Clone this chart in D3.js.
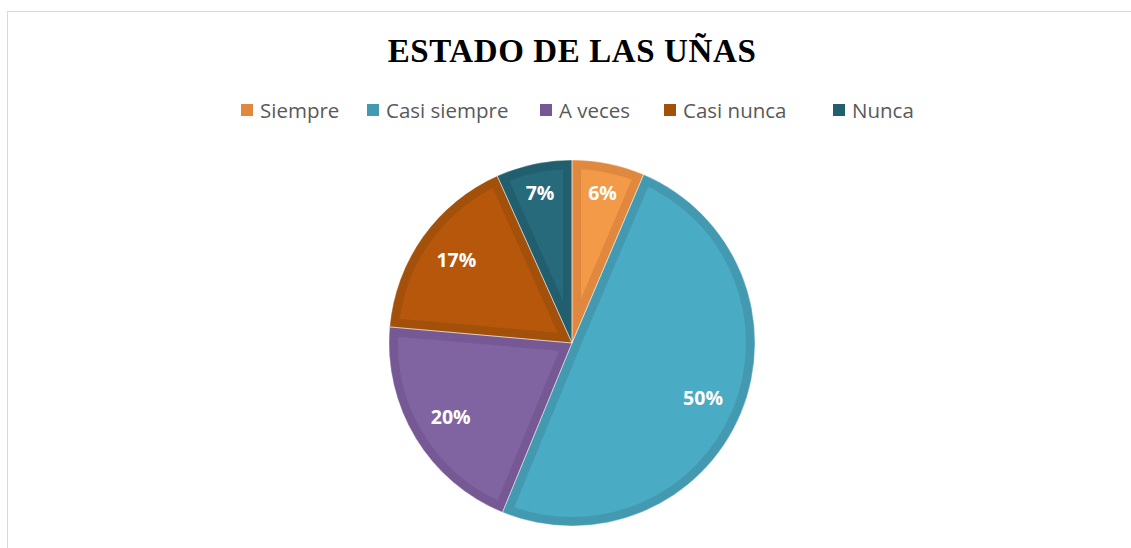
<!DOCTYPE html>
<html>
<head>
<meta charset="utf-8">
<script src="https://cdn.jsdelivr.net/npm/d3@7"></script>
<style>
  body { margin: 0; background: #fff; }
  svg { display: block; }
</style>
</head>
<body>
<script>
var categories = ['Siempre', 'Casi siempre', 'A veces', 'Casi nunca', 'Nunca'];
var values = [6.4, 49.8, 20.2, 16.9, 6.7];   // percent
var innerColors = ['#f39a48', '#4aabc5', '#8064a2', '#b6570b', '#276a7c'];
var edgeColors  = ['#e0883e', '#4399b0', '#765994', '#a3510a', '#215e6e'];

var w = 1131, h = 548,
    cx = 572, cy = 343,
    r = 183,
    edge = 9;   // width of the darker rim on each slice

var svg = d3.select('body').append('svg')
    .attr('width', w)
    .attr('height', h);

// chart frame (only top and left edges fall inside the picture)
svg.append('rect')
    .attr('x', 7.5).attr('y', 11.5)
    .attr('width', w).attr('height', h)
    .attr('fill', 'none')
    .attr('stroke', '#d9d9d9')
    .attr('stroke-width', 1);

svg.append('text')
    .attr('x', cx).attr('y', 62)
    .attr('text-anchor', 'middle')
    .style('font-family', '"Liberation Serif", "Times New Roman", serif')
    .style('font-weight', 'bold')
    .style('font-size', '33px')
    .style('letter-spacing', '0.6px')
    .attr('fill', '#000')
    .text('ESTADO DE LAS UÑAS');

// legend
var legendX = [241, 367, 540, 664, 833];
var legend = svg.append('g').selectAll('g')
    .data(categories)
    .enter().append('g')
    .attr('transform', function(d, i) { return 'translate(' + [legendX[i], 104] + ')'; });

legend.append('rect')
    .attr('width', 12).attr('height', 12)
    .attr('fill', function(d, i) { return edgeColors[i]; });

legend.append('text')
    .attr('x', 19).attr('y', 14)
    .style('font-family', '"Open Sans", sans-serif')
    .style('font-size', '20.5px')
    .attr('fill', '#595959')
    .text(function(d) { return d; });

// pie
var pie = d3.pie().sort(null).value(function(d) { return d; });
var arcs = pie(values);
var arc = d3.arc().innerRadius(0).outerRadius(r);

var g = svg.append('g').attr('transform', 'translate(' + [cx, cy] + ')');

var defs = svg.append('defs');
defs.selectAll('clipPath')
    .data(arcs)
    .enter().append('clipPath')
    .attr('id', function(d, i) { return 'clip' + i; })
    .append('path')
    .attr('d', arc);

g.selectAll('.slice')
    .data(arcs)
    .enter().append('path')
    .attr('class', 'slice')
    .attr('d', arc)
    .attr('clip-path', function(d, i) { return 'url(#clip' + i + ')'; })
    .attr('fill', function(d, i) { return innerColors[i]; })
    .attr('stroke', function(d, i) { return edgeColors[i]; })
    .attr('stroke-width', edge * 2)
    .attr('stroke-linejoin', 'miter');

// thin light seams between slices
g.selectAll('.seam')
    .data(arcs)
    .enter().append('path')
    .attr('class', 'seam')
    .attr('d', arc)
    .attr('fill', 'none')
    .attr('stroke', '#ffffff')
    .attr('stroke-opacity', 0.5)
    .attr('stroke-width', 0.8);

g.selectAll('.label')
    .data(arcs)
    .enter().append('text')
    .attr('class', 'label')
    .attr('transform', function(d) {
        var a = (d.startAngle + d.endAngle) / 2,
            lr = d.data < 10 ? 153 : 142;
        return 'translate(' + [Math.sin(a) * lr, -Math.cos(a) * lr] + ')';
    })
    .attr('text-anchor', 'middle')
    .attr('dy', '0.35em')
    .style('font-family', '"Open Sans", sans-serif')
    .style('font-weight', 'bold')
    .style('font-size', '19.5px')
    .attr('fill', '#ffffff')
    .text(function(d) { return Math.round(d.data) + '%'; });
</script>
</body>
</html>
